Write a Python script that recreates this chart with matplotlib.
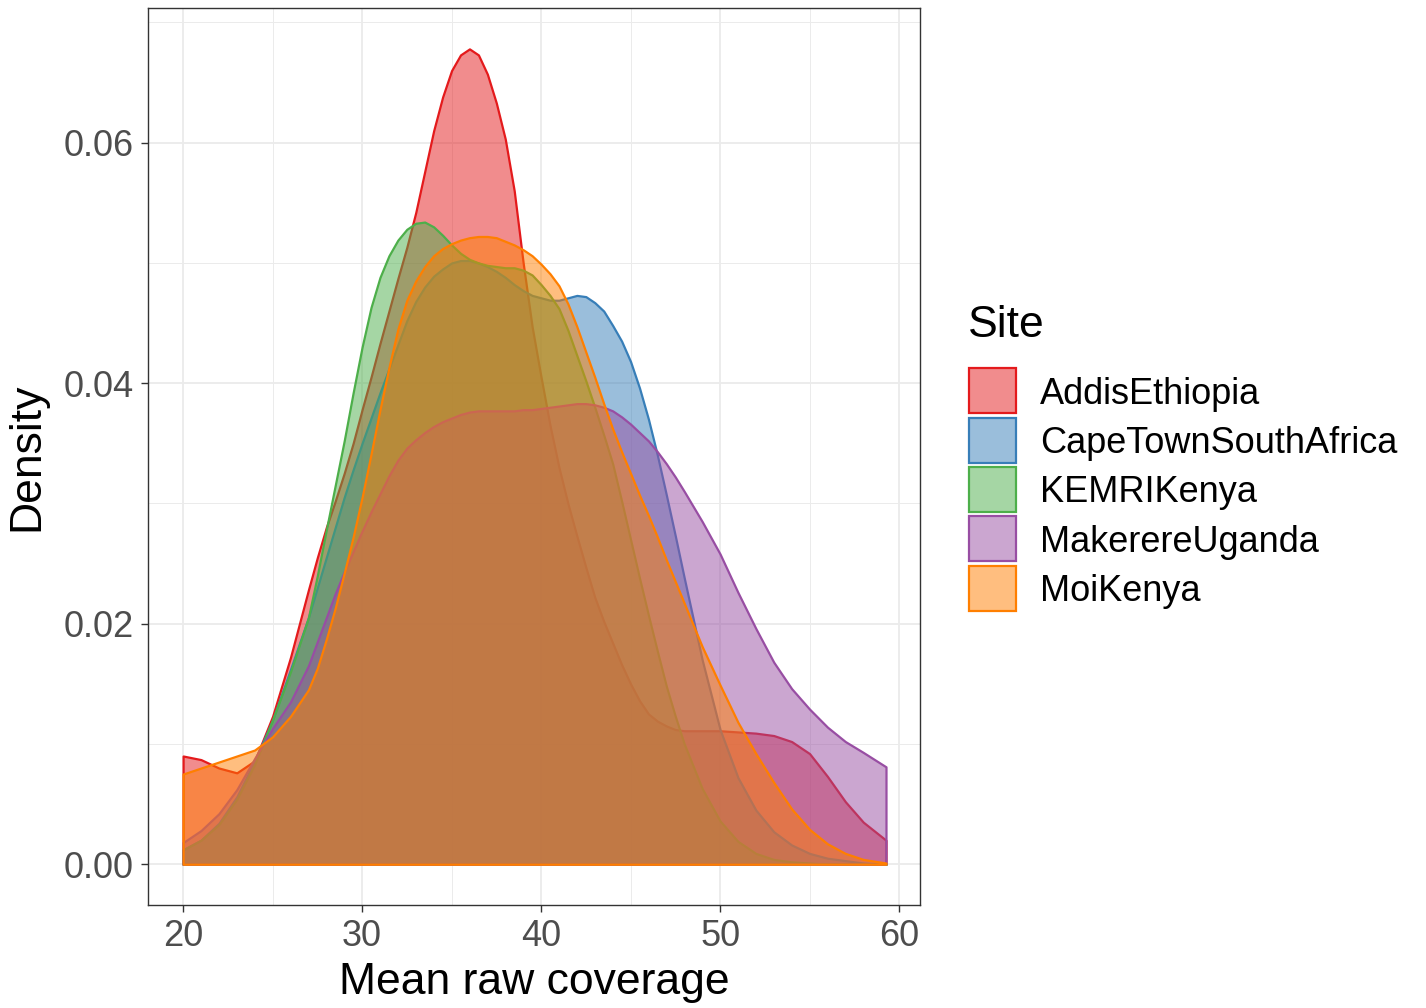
import numpy as np
import matplotlib
matplotlib.use("Agg")
import matplotlib.pyplot as plt
from matplotlib.colors import to_rgba
from matplotlib.patches import Rectangle
from matplotlib.ticker import MultipleLocator, FormatStrFormatter

plt.rcParams['font.family'] = ['Liberation Sans', 'DejaVu Sans']

# density curves (x = mean raw coverage)
x_grid = [20, 21, 22, 23, 24, 25, 26,
          27, 27.5, 28, 28.5, 29, 29.5, 30, 30.5, 31, 31.5, 32, 32.5, 33, 33.5, 34, 34.5,
          35, 35.5, 36, 36.5, 37, 37.5, 38, 38.5, 39, 39.5, 40, 40.5, 41, 41.5, 42, 42.5,
          43, 43.5, 44, 44.5, 45, 45.5, 46, 46.5, 47, 47.5, 48,
          49, 50, 51, 52, 53, 54, 55, 56, 57, 58, 59.27]

addis = [0.0090, 0.0087, 0.0080, 0.0076, 0.0086, 0.0123, 0.0172,
         0.0228, 0.0255, 0.0280, 0.0302, 0.0325, 0.0350, 0.0378, 0.0405, 0.0433, 0.0460,
         0.0487, 0.0513, 0.0542, 0.0576, 0.0610, 0.0638, 0.0660, 0.0673, 0.0678, 0.0673,
         0.0657, 0.0633, 0.0603, 0.0560, 0.0500, 0.0447, 0.0405, 0.0365, 0.0330, 0.0300,
         0.0273, 0.0247, 0.0222, 0.0202, 0.0184, 0.0166, 0.0150, 0.0136, 0.0125, 0.0119,
         0.0115, 0.0112, 0.0111,
         0.0111, 0.0111, 0.0110, 0.0109, 0.0107, 0.0102, 0.0092, 0.0073, 0.0052, 0.0035, 0.0020]
capetown = [0.0012, 0.0020, 0.0034, 0.0056, 0.0086, 0.0120, 0.0162,
            0.0205, 0.0230, 0.0255, 0.0280, 0.0305, 0.0328, 0.0350, 0.0371, 0.0392, 0.0412,
            0.0432, 0.0452, 0.0468, 0.0480, 0.0489, 0.0495, 0.0500, 0.0502, 0.0502, 0.0500,
            0.0497, 0.0493, 0.0488, 0.0482, 0.0477, 0.0473, 0.0471, 0.0469, 0.0469, 0.0471,
            0.0473, 0.0472, 0.0467, 0.0460, 0.0448, 0.0435, 0.0418, 0.0396, 0.0370, 0.0340,
            0.0307, 0.0273, 0.0238,
            0.0170, 0.0112, 0.0072, 0.0045, 0.0027, 0.0016, 0.0009, 0.0005, 0.0003, 0.0001, 0.0000]
kemri = [0.0012, 0.0020, 0.0033, 0.0054, 0.0083, 0.0120, 0.0160,
         0.0205, 0.0240, 0.0278, 0.0315, 0.0352, 0.0392, 0.0430, 0.0463, 0.0488, 0.0506,
         0.0519, 0.0528, 0.0533, 0.0534, 0.0530, 0.0523, 0.0515, 0.0508, 0.0503, 0.0500,
         0.0498, 0.0497, 0.0496, 0.0496, 0.0494, 0.0490, 0.0482, 0.0473, 0.0462, 0.0444,
         0.0423, 0.0402, 0.0380, 0.0357, 0.0333, 0.0302, 0.0270, 0.0238, 0.0207, 0.0177,
         0.0148, 0.0123, 0.0100,
         0.0063, 0.0036, 0.0019, 0.0009, 0.0004, 0.0002, 0.0001, 0.0000, 0.0000, 0.0000, 0.0000]
makerere = [0.0018, 0.0028, 0.0042, 0.0062, 0.0088, 0.0113, 0.0135,
            0.0165, 0.0185, 0.0205, 0.0225, 0.0243, 0.0260, 0.0277, 0.0293, 0.0308, 0.0323,
            0.0336, 0.0346, 0.0353, 0.0359, 0.0364, 0.0368, 0.0371, 0.0374, 0.0376, 0.0377,
            0.0377, 0.0377, 0.0377, 0.0377, 0.0378, 0.0378, 0.0379, 0.0380, 0.0381, 0.0382,
            0.0383, 0.0383, 0.0382, 0.0380, 0.0377, 0.0372, 0.0366, 0.0359, 0.0352, 0.0343,
            0.0333, 0.0322, 0.0310,
            0.0285, 0.0258, 0.0226, 0.0196, 0.0168, 0.0146, 0.0129, 0.0114, 0.0102, 0.0093, 0.0081]
moi = [0.0075, 0.0080, 0.0085, 0.0090, 0.0095, 0.0106, 0.0123,
       0.0145, 0.0163, 0.0187, 0.0213, 0.0242, 0.0272, 0.0305, 0.0341, 0.0378, 0.0413,
       0.0445, 0.0469, 0.0485, 0.0497, 0.0506, 0.0512, 0.0516, 0.0519, 0.0521, 0.0522,
       0.0522, 0.0521, 0.0518, 0.0515, 0.0511, 0.0506, 0.0499, 0.0491, 0.0481, 0.0466,
       0.0447, 0.0426, 0.0405, 0.0383, 0.0362, 0.0343, 0.0325, 0.0307, 0.0290, 0.0272,
       0.0253, 0.0235, 0.0217,
       0.0181, 0.0149, 0.0118, 0.0092, 0.0068, 0.0046, 0.0029, 0.0017, 0.0009, 0.0004, 0.0001]

sites = ["AddisEthiopia", "CapeTownSouthAfrica", "KEMRIKenya", "MakerereUganda", "MoiKenya"]
curves = [addis, capetown, kemri, makerere, moi]
colors = ["#E41A1C", "#377EB8", "#4DAF4A", "#984EA3", "#FF7F00"]

W, H = 1426, 1008
fig = plt.figure(figsize=(W / 100, H / 100), dpi=100)
ax = fig.add_axes([148/W, 1 - 905/H, (920-148)/W, (905-8)/H])

x = np.array(x_grid)
for name, y, c in zip(sites, curves, colors):
    ax.fill_between(x, 0, np.array(y), facecolor=to_rgba(c, 0.5), edgecolor=c,
                    linewidth=1.6, zorder=3)

ax.set_xlim(18.04, 61.17)
ax.set_ylim(-0.00339, 0.0712)
ax.xaxis.set_major_locator(MultipleLocator(10))
ax.xaxis.set_minor_locator(MultipleLocator(5))
ax.yaxis.set_major_locator(MultipleLocator(0.02))
ax.yaxis.set_minor_locator(MultipleLocator(0.01))
ax.yaxis.set_major_formatter(FormatStrFormatter('%.2f'))
ax.grid(which='major', color='#EBEBEB', linewidth=1.3, zorder=0)
ax.grid(which='minor', color='#EBEBEB', linewidth=0.7, zorder=0)
ax.set_axisbelow(True)
ax.tick_params(which='major', length=5, width=1, color='#333333',
               labelsize=26, labelcolor='#4D4D4D', pad=5)
ax.tick_params(which='minor', length=0)
for s in ax.spines.values():
    s.set_color('#333333')
    s.set_linewidth(1.0)

ax.set_xlabel("Mean raw coverage", fontsize=32, labelpad=6)
ax.set_ylabel("Density", fontsize=32, labelpad=12)

# legend drawn by hand, in pixel positions of the reference
fig.text(968/W, 1 - 337/H, "Site", fontsize=32, va='baseline', ha='left')
for i, (name, c) in enumerate(zip(sites, colors)):
    top = 367.3 + i * 49.3
    fig.add_artist(Rectangle((968.5/W, 1 - (top + 46)/H), 47/W, 45/H,
                             transform=fig.transFigure, facecolor=to_rgba(c, 0.5),
                             edgecolor=c, linewidth=1.6))
    fig.text(1040/W, 1 - (top + 36.5)/H, name, fontsize=26, va='baseline', ha='left')

fig.savefig("out.png", dpi=100)
